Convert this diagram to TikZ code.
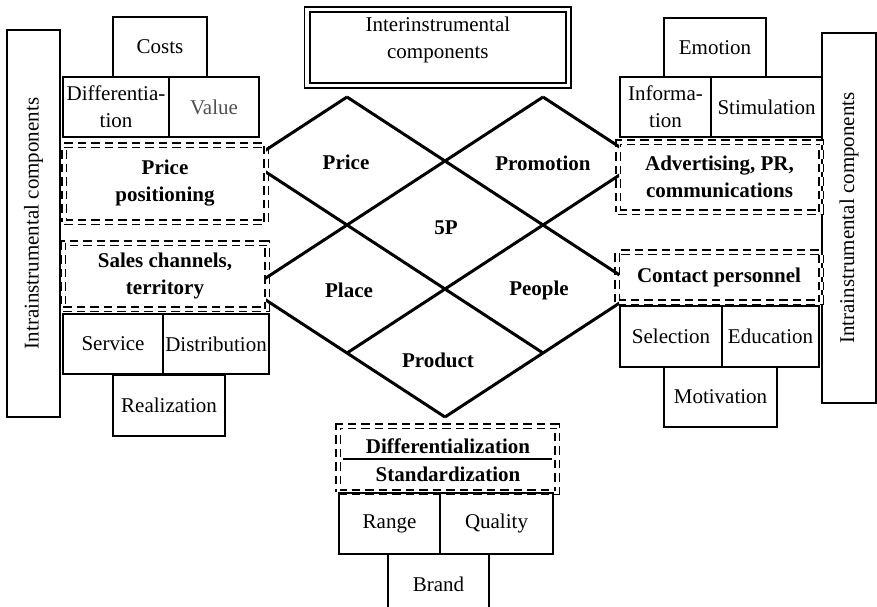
\documentclass[tikz,border=0pt]{standalone}
\usepackage{fontspec}
\setmainfont{Liberation Serif}
\usetikzlibrary{positioning}
\definecolor{valgray}{RGB}{80,80,80}
\newcommand{\dgfont}{\fontsize{21}{27}\selectfont}

\begin{document}
\begin{tikzpicture}[
      x=1pt, y=-1pt,
      cell/.style={draw, line width=1.6pt, outer sep=0pt, inner sep=1pt, align=center, font=\dgfont},
      dbox/.style={cell, double, double distance=3pt, line width=1.7pt, dash pattern=on 8.5pt off 5pt, font=\dgfont\bfseries},
      frame/.style={cell, double, double distance=3.4pt, line width=1.8pt},
      lab/.style={font=\dgfont\bfseries, inner sep=0pt},
      rib/.style={line width=3pt}
    ]
    \clip (0,0) rectangle (877,606);
    % left side
    \node[cell, minimum width=53pt, minimum height=387pt] (lbar) at (33.5,223.5) {\rotatebox{90}{Intrainstrumental components}};
    \node[cell, minimum width=94pt, minimum height=60pt] (costs) at (160,47) {Costs};
    \node[cell, minimum width=106pt, minimum height=60pt] (diff) at (116,107) {Differentia-\\tion};
    \node[cell, minimum width=90pt, minimum height=60pt, right=0pt of diff, text=valgray] (value) {Value};
    \node[dbox, minimum width=202pt, minimum height=77pt] (pricepos) at (165,183.5) {Price\\positioning};
    \node[dbox, minimum width=204pt, minimum height=66pt] (sales) at (165,276) {Sales channels,\\territory};
    \node[cell, minimum width=100pt, minimum height=60pt] (service) at (113,344) {Service};
    \node[cell, minimum width=106pt, minimum height=60pt, right=0pt of service] (distrib) {Distribution};
    \node[cell, minimum width=112pt, minimum height=61pt] (realiz) at (169,405.5) {Realization};
    % right side
    \node[cell, minimum width=54pt, minimum height=370pt] (rbar) at (849,218) {\rotatebox{90}{Intrainstrumental components}};
    \node[cell, minimum width=102pt, minimum height=59pt] (emotion) at (715,47.5) {Emotion};
    \node[cell, minimum width=91pt, minimum height=60pt] (inform) at (665.5,107) {Informa-\\tion};
    \node[cell, minimum width=111pt, minimum height=60pt, right=0pt of inform] (stimul) {Stimulation};
    \node[dbox, minimum width=203pt, minimum height=70pt] (advert) at (719.5,177) {Advertising, PR,\\communications};
    \node[dbox, minimum width=204pt, minimum height=50pt] (contact) at (719,277) {Contact personnel};
    \node[cell, minimum width=102pt, minimum height=61pt] (select) at (671,336.5) {Selection};
    \node[cell, minimum width=97pt, minimum height=61pt, right=0pt of select] (educ) {Education};
    \node[cell, minimum width=113pt, minimum height=60pt] (motiv) at (720.5,397) {Motivation};
    % top
    \node[frame, minimum width=261.7pt, minimum height=76.3pt] (inter) at (437.9,47.4) {};
    \node[font=\dgfont, align=center, inner sep=0pt] (intertext) at (437.9,40) {Interinstrumental\\components};
    % 5P grid
    \foreach \i in {0,...,4}
      \foreach \j in {0,...,5}
        \coordinate (g\i\j) at (249+98*\i, 97+64*\j);
    \begin{scope}
      \clip (266,90) rectangle (619,425);
      \draw[rib] (g01) -- (g10);
      \draw[rib] (g03) -- (g30);
      \draw[rib] (g14) -- (g41);
      \draw[rib] (g25) -- (g43);
      \draw[rib] (g01) -- (g34);
      \draw[rib] (g10) -- (g43);
      \draw[rib] (g30) -- (g41);
      \draw[rib] (g03) -- (g25);
    \end{scope}
    \node[lab] (price) at (346,162) {Price};
    \node[lab] (promo) at (543,163) {Promotion};
    \node[lab] (fivep) at (446,228) {5P};
    \node[lab] (place) at (349,290) {Place};
    \node[lab] (people) at (539,290) {People};
    \node[lab] (product) at (438,360) {Product};
    % bottom
    \node[dbox, minimum width=219pt, minimum height=66pt] (stdbox) at (447.5,459) {};
    \node[lab] (differz) at (448,446) {Differentialization};
    \node[lab] (standz) at (448,474) {Standardization};
    \draw[line width=1.2pt] ([xshift=5pt]stdbox.west) -- ([xshift=-5pt]stdbox.east);
    \node[cell, minimum width=101pt, minimum height=61pt] (range) at (389.5,523.5) {Range};
    \node[cell, minimum width=113pt, minimum height=61pt, right=0pt of range] (quality) {Quality};
    \node[cell, minimum width=101pt, minimum height=61pt] (brand) at (438.5,584.5) {Brand};
\end{tikzpicture}
\end{document}
